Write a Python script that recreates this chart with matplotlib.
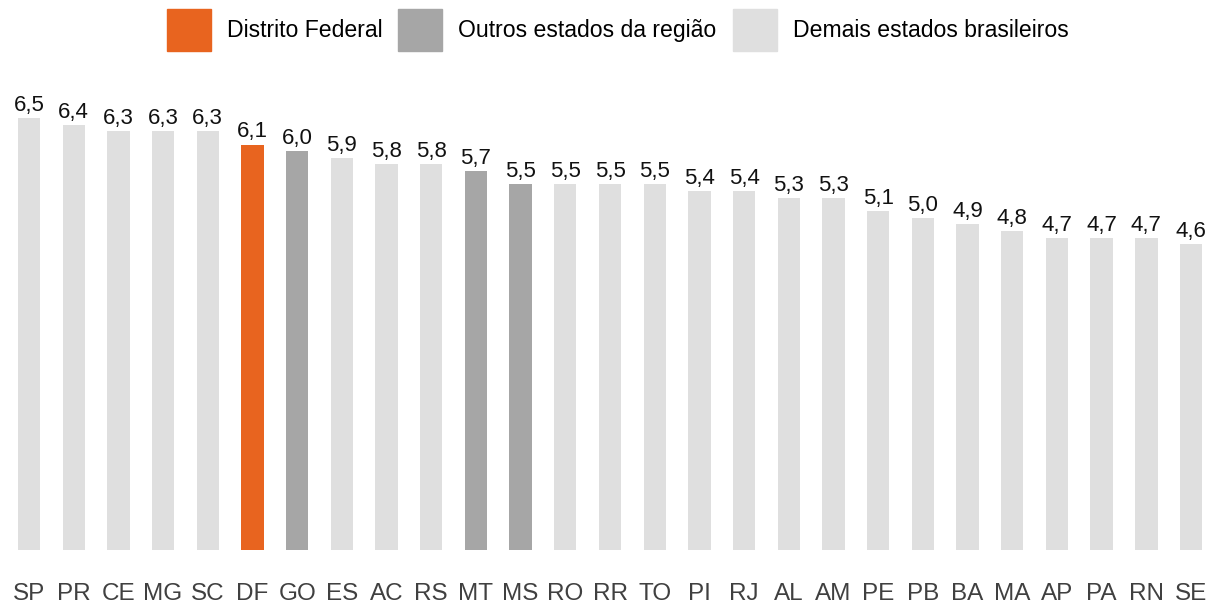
import matplotlib.pyplot as plt
from matplotlib.patches import Patch

plt.rcParams['font.family'] = ['Liberation Sans', 'DejaVu Sans']

estados = ['SP', 'PR', 'CE', 'MG', 'SC', 'DF', 'GO', 'ES', 'AC', 'RS', 'MT', 'MS', 'RO', 'RR',
           'TO', 'PI', 'RJ', 'AL', 'AM', 'PE', 'PB', 'BA', 'MA', 'AP', 'PA', 'RN', 'SE']
valores = [6.5, 6.4, 6.3, 6.3, 6.3, 6.1, 6.0, 5.9, 5.8, 5.8, 5.7, 5.5, 5.5, 5.5,
           5.5, 5.4, 5.4, 5.3, 5.3, 5.1, 5.0, 4.9, 4.8, 4.7, 4.7, 4.7, 4.6]
regiao = ['GO', 'MT', 'MS']

laranja = '#E8641F'
cinza = '#A6A6A6'
claro = '#DFDFDF'

cores = []
for uf in estados:
    if uf == 'DF':
        cores.append(laranja)
    elif uf in regiao:
        cores.append(cinza)
    else:
        cores.append(claro)

fig = plt.figure(figsize=(12.11, 6.08), dpi=100)
ax = fig.add_axes([0, 0.0954, 1, 0.806])

x = range(len(estados))
bars = ax.bar(x, valores, width=0.5, color=cores)

for b, v in zip(bars, valores):
    ax.annotate(f'{v:.1f}'.replace('.', ','), (b.get_x() + b.get_width() / 2, v),
                xytext=(0, 1.5), textcoords='offset points',
                ha='center', va='bottom', fontsize=16, color='#111111')

ax.set_xlim(-0.649, 26.447)
ax.set_ylim(0, 7.373)
ax.set_xticks(list(x))
ax.set_xticklabels(estados, fontsize=17.5, color='#404040')
ax.tick_params(axis='x', length=0, pad=24)
ax.set_yticks([])
for s in ax.spines.values():
    s.set_visible(False)

handles = [Patch(color=laranja, label='Distrito Federal'),
           Patch(color=cinza, label='Outros estados da região'),
           Patch(color=claro, label='Demais estados brasileiros')]
fig.legend(handles=handles, loc='center', bbox_to_anchor=(0.51, 0.951), ncol=3,
           frameon=False, fontsize=16.6, handlelength=1.9, handleheight=2.45,
           handletextpad=0.7, columnspacing=0.7)

fig.savefig('out.png', dpi=100)
